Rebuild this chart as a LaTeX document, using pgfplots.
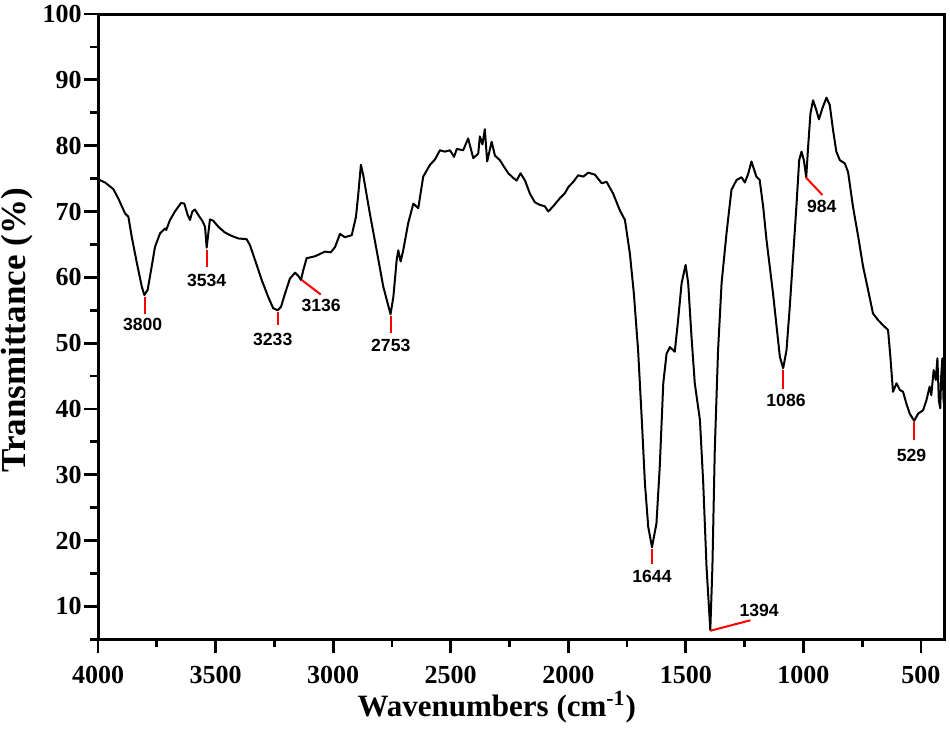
\documentclass[border=0pt]{standalone}
\usepackage{fontspec}
\setmainfont{Liberation Serif}
\newfontfamily\arial{Liberation Sans}
\usepackage{pgfplots}
\pgfplotsset{compat=1.18}

\begin{document}
\begin{tikzpicture}
\begin{axis}[
  scale only axis,
  width=423pt, height=312.5pt,
  x dir=reverse,
  xmin=400, xmax=4000,
  ymin=5, ymax=100,
  xtick={500,1000,...,4000},
  minor xtick={750,1250,...,3750},
  ytick={10,20,...,100},
  minor ytick={5,15,...,95},
  tick align=outside,
  xtick pos=bottom, ytick pos=left,
  major tick length=7pt, minor tick length=4pt,
  axis line style={line width=1.5pt},
  tick style={line width=1.4pt, black},
  /pgf/number format/assume math mode=true,
  /pgf/number format/1000 sep={},
  tick label style={font=\fontsize{13}{15}\selectfont\bfseries, inner sep=1pt},
  xticklabel style={yshift=-5pt},
  xlabel={Wavenumbers (cm\textsuperscript{-1})},
  ylabel={Transmittance (\%)},
  xlabel style={font=\fontsize{15.5}{18}\selectfont\bfseries,
                at={(axis description cs:0.471,-0.123)}, anchor=base},
  ylabel style={font=\fontsize{17.5}{20}\selectfont\bfseries,
                at={(axis description cs:-0.086,0.494)}, anchor=base},
  clip=false,
]
% FTIR spectrum
\addplot[black, line width=1pt, line join=round] coordinates {
  (4000,74.9) (3970,74.4) (3949,73.8) (3935,73.4) (3914,72.0) (3885,69.7)
  (3871,69.2) (3857,66.2) (3835,62.2) (3814,58.6) (3803,57.3) (3789,58.1)
  (3772,61.6) (3758,64.6) (3736,66.7) (3715,67.4) (3710,67.2) (3694,68.7)
  (3673,70.0) (3647,71.3) (3633,71.2) (3619,69.5) (3609,68.7) (3599,70.0)
  (3588,70.3) (3574,69.5) (3557,68.6) (3545,67.7) (3538,64.5) (3530,67.0)
  (3524,68.8) (3510,68.6) (3489,67.7) (3460,66.8) (3432,66.3) (3403,65.9)
  (3368,65.8) (3354,64.9) (3332,62.6) (3304,59.6) (3276,57.0) (3255,55.3)
  (3236,55.0) (3222,55.5) (3205,57.5) (3184,59.8) (3162,60.7) (3148,60.2)
  (3137,59.6) (3127,61.1) (3113,62.9) (3077,63.2) (3035,63.9) (3010,63.8)
  (2992,64.6) (2971,66.6) (2950,66.1) (2921,66.4) (2903,69.2) (2893,72.7)
  (2882,77.1) (2872,75.5) (2844,69.7) (2815,64.1) (2787,58.6) (2756,54.4)
  (2744,57.0) (2730,62.6) (2723,64.1) (2713,62.4) (2702,64.1) (2681,68.2)
  (2659,71.2) (2638,70.5) (2617,75.3) (2588,77.1) (2567,77.9) (2546,79.3)
  (2525,79.1) (2503,79.3) (2486,78.3) (2474,79.5) (2447,79.3) (2426,81.1)
  (2404,78.1) (2383,78.8) (2376,81.4) (2365,80.2) (2355,82.5) (2345,77.6)
  (2326,80.6) (2312,78.5) (2291,77.8) (2277,77.0) (2255,75.8) (2234,75.1)
  (2220,74.7) (2203,75.8) (2184,74.7) (2163,72.7) (2142,71.4) (2121,71.0)
  (2100,70.8) (2085,70.0) (2064,70.8) (2036,72.0) (2014,72.8) (2000,73.7)
  (1979,74.5) (1958,75.5) (1936,75.3) (1915,75.9) (1887,75.6) (1858,74.3)
  (1837,74.5) (1809,72.7) (1781,70.2) (1759,68.7) (1738,63.6) (1721,57.5)
  (1703,48.9) (1688,38.8) (1674,28.7) (1660,22.1) (1644,19.0) (1625,22.6)
  (1611,31.2) (1596,43.9) (1582,48.4) (1568,49.4) (1547,48.7) (1533,53.5)
  (1518,59.1) (1501,61.9) (1490,59.1) (1476,51.0) (1462,43.9) (1440,38.3)
  (1426,28.7) (1412,16.0) (1396,6.4) (1387,16.0) (1377,33.7) (1363,48.9)
  (1348,59.1) (1327,66.7) (1306,73.3) (1284,74.8) (1263,75.2) (1249,74.4)
  (1235,75.7) (1221,77.6) (1200,75.3) (1186,74.8) (1171,70.7) (1157,65.7)
  (1143,61.6) (1129,57.5) (1114,52.5) (1100,47.9) (1086,46.2) (1072,48.9)
  (1058,55.5) (1044,63.1) (1029,71.2) (1018,77.8) (1008,79.1) (998,77.8)
  (988,75.2) (980,79.8) (970,84.9) (959,86.9) (945,85.4) (934,84.0)
  (919,85.7) (902,87.3) (888,86.2) (874,82.4) (860,79.1) (845,77.8)
  (824,77.3) (810,76.0) (789,70.7) (767,66.2) (746,61.6) (725,58.1)
  (704,54.5) (682,53.5) (661,52.7) (640,52.0) (630,47.9) (619,42.6)
  (604,43.9) (590,42.9) (576,42.6) (562,40.8) (548,39.3) (529,38.2)
  (512,39.3) (491,39.8) (477,41.3) (463,43.4) (456,42.1) (446,45.9)
  (437,44.4) (430,47.7) (424,41.3) (418,40.1) (414,45.0) (409,47.7)
  (404,41.3) (401,40.5)
};
% peak markers
\begin{scope}[red, line width=1pt]
\draw (axis cs:3800,57.0) -- (axis cs:3800,54.4);
\draw (axis cs:3538,64.1) -- (axis cs:3538,61.5);
\draw (axis cs:3236,54.8) -- (axis cs:3236,52.7);
\draw (axis cs:3134,59.6) -- (axis cs:3053,57.4);
\draw (axis cs:2755,54.1) -- (axis cs:2755,51.5);
\draw (axis cs:1644,18.8) -- (axis cs:1644,16.5);
\draw (axis cs:1396,6.3) -- (axis cs:1225,7.9);
\draw (axis cs:1086,45.9) -- (axis cs:1086,43.1);
\draw (axis cs:990,75.2) -- (axis cs:919,72.5);
\draw (axis cs:531,38.0) -- (axis cs:531,35.3);
\end{scope}
\begin{scope}[every node/.style={font=\arial\bfseries\fontsize{8.8}{10}\selectfont, inner sep=0pt}]
\node at (axis cs:3810,52.8) {3800};
\node at (axis cs:3538,59.5) {3534};
\node at (axis cs:3257,50.5) {3233};
\node at (axis cs:3051,55.7) {3136};
\node at (axis cs:2755,49.6) {2753};
\node at (axis cs:1644,14.6) {1644};
\node at (axis cs:1188,9.4) {1394};
\node at (axis cs:1074,41.3) {1086};
\node at (axis cs:922,70.7) {984};
\node at (axis cs:540,33.0) {529};
\end{scope}
\end{axis}
\pgfresetboundingbox
\path (-49pt,-48pt) rectangle (425.75pt,319.5pt);
\end{tikzpicture}
\end{document}
